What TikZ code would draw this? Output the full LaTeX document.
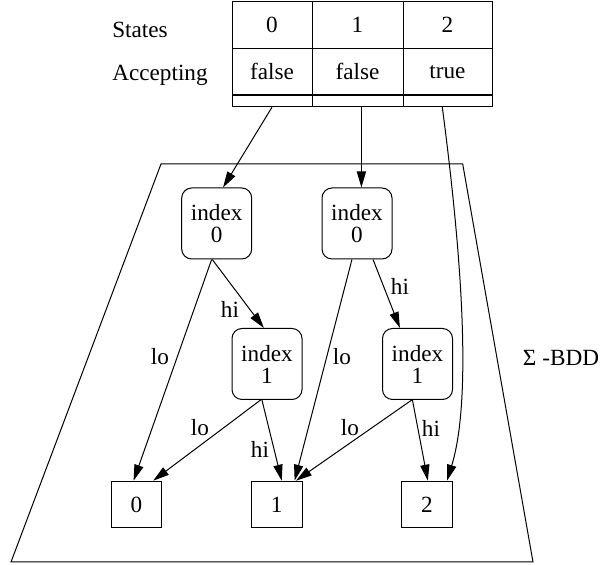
\documentclass[tikz,border=0pt]{standalone}
\usepackage{fontspec}
\setmainfont{Liberation Serif}
\usetikzlibrary{arrows.meta}
\begin{document}
\begin{tikzpicture}[x=0.5pt,y=-0.5pt,line width=0.5pt,
	>={Triangle[length=8pt,width=4.6pt]},
	every node/.style={font=\fontsize{11.6}{11}\selectfont}]
	
	\tikzset{
		cell/.style={draw,inner sep=0pt,minimum width=#1},
		idx/.style={draw,rounded corners=5pt,align=center,inner sep=0pt,
			minimum width=35pt,minimum height=35.5pt},
		term/.style={draw,inner sep=0pt,minimum width=25.3pt,minimum height=23.3pt},
		lbl/.style={inner sep=1pt}
	}
	
	\useasboundingbox (0,0) rectangle (600,565);
	
	%----------------------
	% Bảng trạng thái
	%----------------------
	\node (states) at (140,30) {States};
	\node (accept) at (160,75) {Accepting};
	\foreach \c/\x/\w/\a in {0/272/40pt/false,1/357.5/45.5pt/false,2/447.5/44.5pt/true}{
		\node[cell=\w,minimum height=23.3pt] (sta\c) at (\x,25) {\c};
		\node[cell=\w,minimum height=23.35pt] (acc\c) at (\x,71.7) {\a};
		\node[cell=\w,minimum height=5.85pt] (ptr\c) at (\x,100.85) {};
	}
	
	% Khung Sigma-BDD
	\draw (161,164)--(462.7,164)--(533,562)--(11,562)--cycle;
	\node (sbdd) at (561,358) {Σ -BDD};
	
	%----------------------
	% Các nút
	%----------------------
	\node[idx] (idxa) at (216.7,223.5) {index\\0};
	\node[idx] (idxb) at (357,223.5) {index\\0};
	\node[idx] (idxc) at (267,364) {index\\1};
	\node[idx] (idxd) at (417.5,364) {index\\1};
	
	\node[term] (term0) at (136.5,504.5) {0};
	\node[term] (term1) at (276.7,504.5) {1};
	\node[term] (term2) at (427,504.5) {2};
	
	% Cạnh từ bảng
	\draw[->] (ptr0.south)--(idxa.80);
	\draw[->] (idxb.83 |- ptr1.south)--(idxb.83);
	\draw[->] ([xshift=-2.6pt]ptr2.south) .. controls (462,257) and (472,400) .. ([xshift=10pt]term2.north);
	
	% Cạnh lo / hi
	\draw[->] (idxa.-97)--(idxc.95);
	\draw[->] (idxa.-98)--(term0.97);
	\draw[->] (idxb.-66)--(idxd.116);
	\draw[->] (idxb.-98)--(term1.53);
	\draw[->] (idxc.-100)--(term0.55);
	\draw[->] (idxc.-98)--(term1.78);
	\draw[->] (idxd.-99)--(term1.51);
	\draw[->] (idxd.-98)--(term2.88);
	
	% Nhãn
	\node[lbl] (hia) at (230,309) {hi};
	\node[lbl] (loa) at (160,357) {lo};
	\node[lbl] (hib) at (400,286) {hi};
	\node[lbl] (lob) at (342,357) {lo};
	\node[lbl] (loc) at (200,428) {lo};
	\node[lbl] (hic) at (260,449) {hi};
	\node[lbl] (lod) at (350,428) {lo};
	\node[lbl] (hid) at (431,428) {hi};
	
\end{tikzpicture}
\end{document}
